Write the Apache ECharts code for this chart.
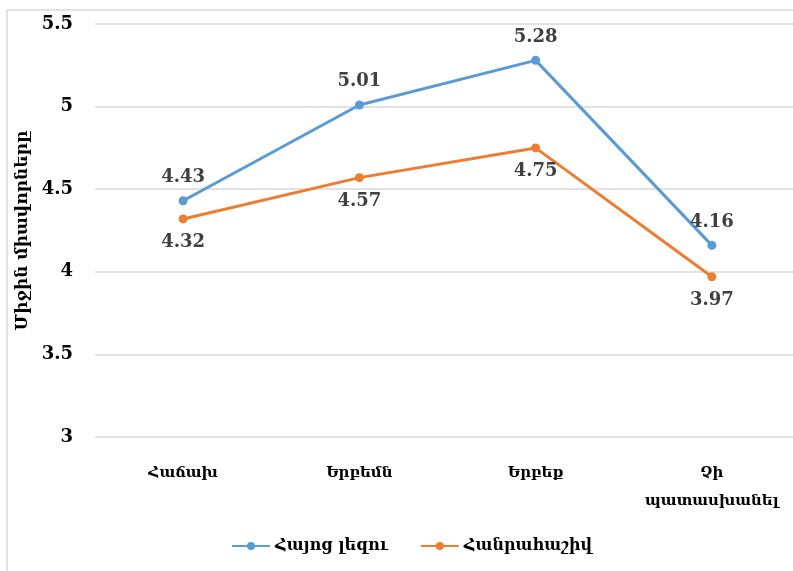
<!DOCTYPE html>
<html>
<head>
<meta charset="utf-8">
<script src="https://cdn.jsdelivr.net/npm/echarts@6/dist/echarts.min.js"></script>
<style>
  html, body { margin: 0; padding: 0; background: #fff; }
  #chart { width: 793px; height: 571px; }
</style>
</head>
<body>
<div id="chart"></div>
<script>
	'use strict'
	var categories = ['Հաճախ', 'Երբեմն', 'Երբեք', 'Չի\nպատասխանել'];
	var armenianData = [4.43, 5.01, 5.28, 4.16];
	var algebraData = [4.32, 4.57, 4.75, 3.97];
	var seriesNames = ['Հայոց լեզու', 'Հանրահաշիվ'];
	var yAxisName = 'Միջին միավորները';

	var serif = '"DejaVu Serif", serif';

	var chart = echarts.init(document.getElementById('chart'));
	var option = {
		animation: false,
		color: ['#5b9bd5', '#ed7d31'],
		graphic: [{
			type: 'rect',
			shape: { x: 7, y: 10, width: 820, height: 600 },
			style: { fill: 'none', stroke: '#d9d9d9', lineWidth: 1.5 },
			silent: true
		}],
		grid: {
			top: 24,
			left: 95,
			width: 705,
			height: 413,
			outerBoundsMode: 'none'
		},
		legend: {
			bottom: 12,
			left: 226,
			itemWidth: 38,
			itemHeight: 10,
			itemGap: 32,
			textStyle: {
				fontFamily: serif,
				fontWeight: 'bold',
				fontSize: 16,
				color: '#000'
			},
			data: seriesNames
		},
		xAxis: {
			type: 'category',
			data: categories,
			axisLine: { show: false },
			axisTick: { show: false },
			axisLabel: {
				margin: 22,
				fontFamily: serif,
				fontWeight: 'bold',
				fontSize: 15,
				lineHeight: 28,
				color: '#000'
			}
		},
		yAxis: {
			type: 'value',
			min: 3,
			max: 5.5,
			interval: 0.5,
			name: yAxisName,
			nameLocation: 'middle',
			nameGap: 55,
			nameTextStyle: {
				fontFamily: serif,
				fontWeight: 'bold',
				fontSize: 17,
				color: '#000'
			},
			axisLine: { show: false },
			axisTick: { show: false },
			splitLine: {
				lineStyle: { color: '#d9d9d9', width: 1.5 }
			},
			axisLabel: {
				margin: 22,
				fontFamily: serif,
				fontWeight: 'bold',
				fontSize: 18,
				color: '#000'
			}
		},
		series: [{
			name: seriesNames[0],
			type: 'line',
			data: armenianData,
			symbol: 'circle',
			symbolSize: 9,
			lineStyle: { width: 3 },
			label: {
				show: true,
				position: 'top',
				distance: 10,
				fontFamily: serif,
				fontWeight: 'bold',
				fontSize: 18,
				color: '#404040'
			}
		}, {
			name: seriesNames[1],
			type: 'line',
			data: algebraData,
			symbol: 'circle',
			symbolSize: 9,
			lineStyle: { width: 3 },
			label: {
				show: true,
				position: 'bottom',
				distance: 10,
				fontFamily: serif,
				fontWeight: 'bold',
				fontSize: 18,
				color: '#404040'
			}
		}]
	};
	chart.setOption(option);
</script>
</body>
</html>
